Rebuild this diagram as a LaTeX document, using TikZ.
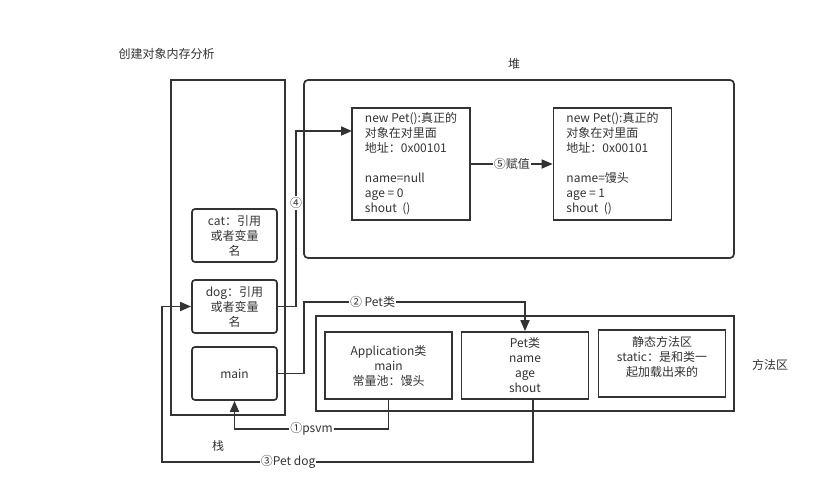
\documentclass[tikz,border=0pt]{standalone}
\usepackage{fontspec}
\setmainfont{Noto Sans CJK SC}
\usetikzlibrary{arrows.meta}
\definecolor{ink}{HTML}{333333}
\tikzset{
	box/.style={draw=ink,line width=1.7pt,inner sep=0pt,align=center},
	rbox/.style={box,rounded corners=3pt},
	objbox/.style={box,minimum width=118,minimum height=112,align=left},
	clsbox/.style={box,minimum width=127,minimum height=67},
	conn/.style={draw=ink,line width=1.7pt},
	arr/.style={conn,-{Triangle[length=11pt,width=9pt]}},
	lbl/.style={fill=white,inner sep=1pt,text=ink}
}

\begin{document}
\begin{tikzpicture}[x=1pt,y=-1pt,font=\fontsize{12pt}{15pt}\selectfont,text=ink]
		\useasboundingbox (0,0) rectangle (831,493);
		\node[anchor=west] (title) at (115,54) {创建对象内存分析};
		
		% stack
		\node[box,minimum width=114,minimum height=335] (stack) at (228,247.5) {};
		\node (stacklbl) at (218,446) {栈};
		\node[rbox,minimum width=85,minimum height=53] (cat) at (234.5,235.5) {cat：引用\\或者变量\\名};
		\node[rbox,minimum width=85,minimum height=53] (dog) at (234.5,306.5) {dog：引用\\或者变量\\名};
		\node[rbox,minimum width=85,minimum height=53] (main) at (234.5,373.5) {main};
		
		% heap
		\node[box,rounded corners=4pt,minimum width=430,minimum height=178] (heap) at (519,169) {};
		\node (heaplbl) at (514,64) {堆};
		\node[objbox] (obj1) at (411,164) {new Pet():真正的\\对象在对里面\\地址：0x00101\\\mbox{}\\name=null\\age = 0\\shout\ \ ()};
		\node[objbox] (obj2) at (612.5,164) {new Pet():真正的\\对象在对里面\\地址：0x00101\\\mbox{}\\name=馒头\\age = 1\\shout\ \ ()};
		
		% method area
		\node[box,minimum width=418,minimum height=95] (method) at (525,363.5) {};
		\node (methodlbl) at (770,365) {方法区};
		\node[clsbox] (app) at (388.5,365.5) {Application类\\main\\常量池：馒头};
		\node[clsbox] (pet) at (525,365.5) {Pet类\\name\\age\\shout};
		\node[clsbox] (static) at (662,363.5) {静态方法区\\static：是和类一\\起加载出来的\\\mbox{}};
		
		\coordinate (b1a) at (388.5,429);
		\coordinate (b1b) at (234.5,429);
		\coordinate (b2) at (304,302);
		\coordinate (b3a) at (533,462);
		\coordinate (b3b) at (162,462);
		\coordinate (b3c) at (162,306.5);
		\coordinate (b4a) at (296,306.5);
		\coordinate (b4b) at (296,131);
		\coordinate (b4c) at (352,131);
		
		\draw[arr] (app.south) -- (b1a) -- node[lbl]{①psvm} (b1b) -- (main.south);
		\draw[arr] (main.east) -| (b2) -- node[lbl,pos=0.31]{②\ Pet类} (b2 -| pet.north) -- (pet.north);
		\draw[arr] ([xshift=8pt]pet.south) -- (b3a) -- node[lbl,pos=0.66]{③Pet dog} (b3b) -- (b3c) -- (dog.west);
		\draw[arr] (dog.east) -- (b4a) -- node[lbl,pos=0.59]{④} (b4b) -- (b4c);
		\draw[arr] (obj1.east) -- node[lbl]{⑤赋值} (obj2.west);
	\end{tikzpicture}
\end{document}
